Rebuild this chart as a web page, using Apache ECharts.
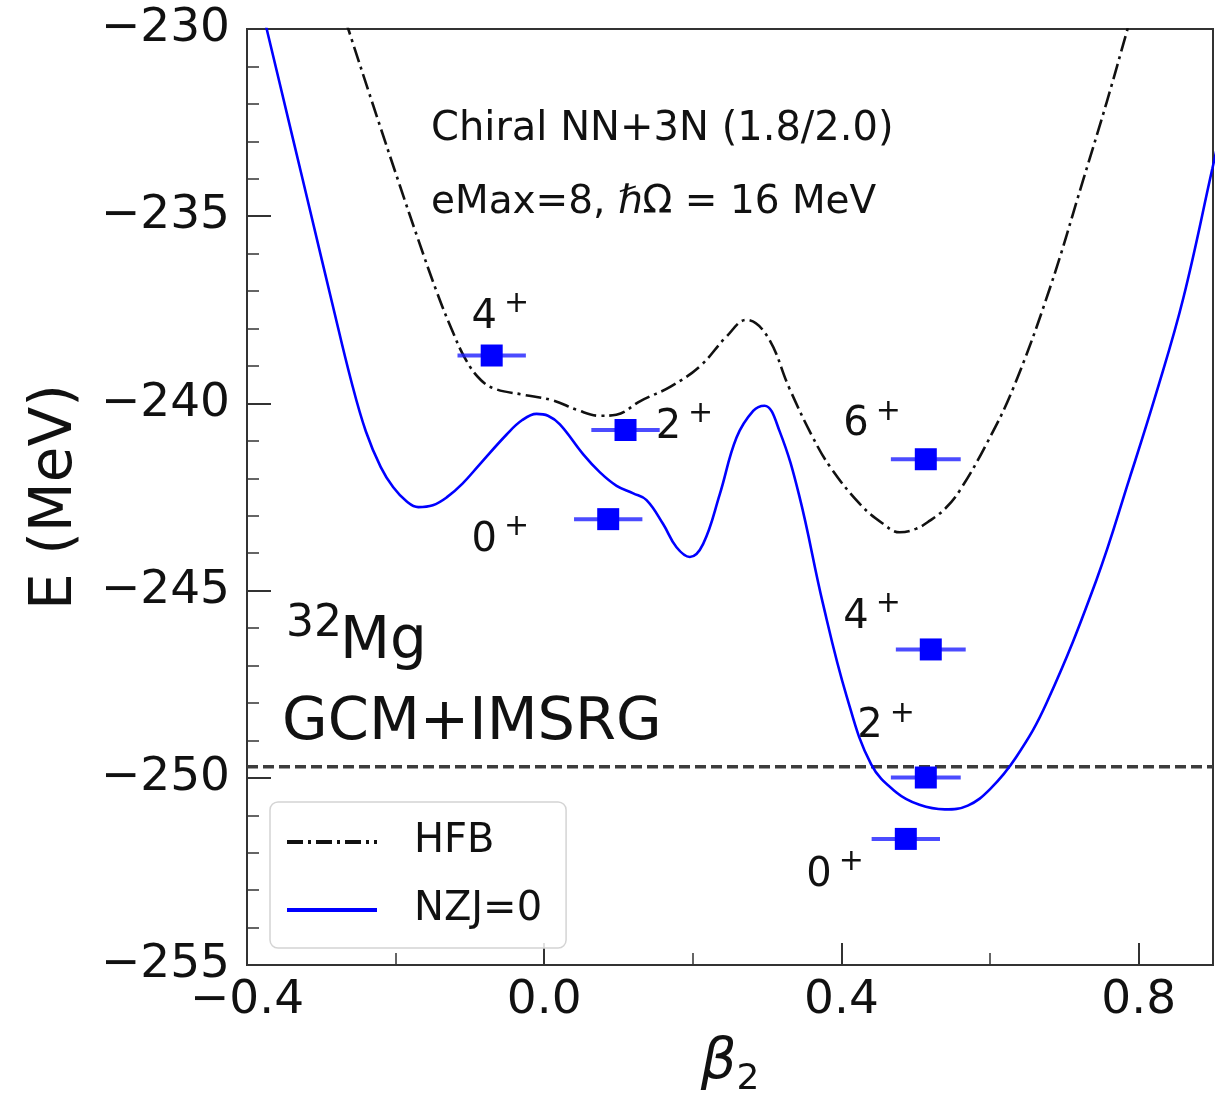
<!DOCTYPE html>
<html><head><meta charset="utf-8">
<script src="https://cdn.jsdelivr.net/npm/echarts@6/dist/echarts.min.js"></script>
<style>html,body{margin:0;padding:0;background:#fff}#c{width:1225px;height:1103px}</style>
</head><body><div id="c"></div>
<script>
// HFB energy surface (dash-dot)
const hfbBeta = [-0.28, -0.2637, -0.23, -0.194, -0.17, -0.145, -0.125, -0.105, -0.085, -0.065, -0.03, 0.012, 0.045, 0.075, 0.097, 0.13, 0.17, 0.21, 0.245, 0.272, 0.30, 0.33, 0.36, 0.385, 0.425, 0.455, 0.4785, 0.50, 0.519, 0.54, 0.559, 0.595, 0.631, 0.68, 0.725, 0.757, 0.785, 0.80];
const hfbE    = [-229.0, -230.0, -232.05, -234.2, -235.6, -237.0, -238.0, -238.85, -239.38, -239.62, -239.76, -239.92, -240.18, -240.33, -240.30, -239.93, -239.55, -239.0, -238.22, -237.77, -238.2, -239.6, -240.85, -241.7, -242.69, -243.2, -243.44, -243.35, -243.13, -242.8, -242.33, -241.09, -239.6, -236.95, -234.05, -231.95, -230.0, -228.95];
// NZJ=0 energy surface (solid blue)
const nzjBeta = [-0.382, -0.3735, -0.34, -0.3135, -0.285, -0.26, -0.24, -0.22, -0.2032, -0.185, -0.1695, -0.15, -0.1313, -0.11, -0.0865, -0.0506, -0.03, -0.0103, 0.005, 0.0211, 0.0525, 0.075, 0.0974, 0.1198, 0.1377, 0.16, 0.178, 0.196, 0.2139, 0.2363, 0.2588, 0.2812, 0.2965, 0.3167, 0.343, 0.375, 0.407, 0.44, 0.474, 0.505, 0.539, 0.57, 0.60, 0.635, 0.676, 0.743, 0.788, 0.824, 0.86, 0.899, 0.905];
const nzjE    = [-229.3, -230.0, -232.78, -234.98, -237.35, -239.38, -240.75, -241.7, -242.24, -242.62, -242.77, -242.72, -242.51, -242.14, -241.62, -240.83, -240.45, -240.28, -240.33, -240.56, -241.36, -241.84, -242.20, -242.40, -242.58, -243.22, -243.84, -244.10, -243.75, -242.42, -240.91, -240.20, -240.06, -240.74, -242.45, -245.34, -247.82, -249.64, -250.39, -250.72, -250.84, -250.74, -250.30, -249.45, -248.00, -244.72, -241.98, -239.70, -237.19, -233.74, -233.2];
// GCM states
const levelBeta = [-0.0707, 0.1094, 0.0861, 0.5135, 0.5202, 0.5135, 0.4866];
const levelE    = [-238.72, -240.71, -243.09, -241.49, -246.57, -249.99, -251.63];
const levelErr  = [0.046, 0.046, 0.046, 0.047, 0.047, 0.047, 0.046];
// state labels
const labelText = ['4', '2', '0', '6', '4', '2', '0'];
const labelBeta = [-0.0986, 0.1493, -0.0986, 0.4018, 0.4018, 0.4207, 0.352];
const labelE    = [-237.71, -240.64, -243.65, -240.57, -245.72, -248.64, -252.60];
// reference (experimental) ground-state line
const refE = -249.7;
const xRange = [-0.4, 0.9];
const yRange = [-255, -230];

const FONT = 'DejaVu Sans';
const minus = v => (v < 0 ? '\u2212' : '') + Math.abs(v);
const chart = echarts.init(document.getElementById('c'));

chart.setOption({
  animation: false,
  backgroundColor: '#fff',
  grid: { left: 247, right: 12, top: 29, bottom: 133, show: true, borderColor: '#333', borderWidth: 2, backgroundColor: 'transparent' },
  textStyle: { fontFamily: FONT },
  legend: {
    data: ['HFB', 'NZJ=0'],
    orient: 'vertical', left: 270, top: 802,
    padding: [20, 24, 18, 15],
    itemWidth: 90, itemHeight: 14, itemGap: 28,
    backgroundColor: 'rgba(255,255,255,0.85)',
    borderColor: '#d4d4d4', borderWidth: 1.5, borderRadius: 8,
    lineStyle: { width: 4 },
    itemStyle: { opacity: 0, borderWidth: 0 },
    formatter: n => '{a|' + n + '}',
    textStyle: { fontFamily: FONT, fontSize: 40, color: '#111', rich: { a: { fontSize: 40, fontFamily: FONT, color: '#111', padding: [0, 0, 0, 32], lineHeight: 45 } } }
  },
  xAxis: [{
    type: 'value', min: xRange[0], max: xRange[1], interval: 0.4,
    name: '{b|\u03B2}{s|2}', nameLocation: 'middle', nameGap: 62,
    nameTextStyle: { rich: {
      b: { fontSize: 56, fontStyle: 'italic', fontFamily: FONT, color: '#111', lineHeight: 60 },
      s: { fontSize: 36, fontFamily: FONT, color: '#111', lineHeight: 40, padding: [33, 0, 0, 0] }
    } },
    axisLine: { show: true, onZero: false, lineStyle: { color: '#333', width: 2 } },
    axisTick: { show: true, inside: true, length: 22, lineStyle: { color: '#333', width: 2 } },
    axisLabel: { fontSize: 47, color: '#111', fontFamily: FONT, margin: 12, showMaxLabel: false, formatter: v => (v < 0 ? '\u2212' : '') + Math.abs(v).toFixed(1) },
    splitLine: { show: false }
  }, {
    type: 'value', min: xRange[0], max: xRange[1], interval: 0.2, position: 'bottom',
    axisLine: { show: false },
    axisTick: { show: true, inside: true, length: 12, lineStyle: { color: '#333', width: 1.5 } },
    axisLabel: { show: false },
    splitLine: { show: false }
  }],
  yAxis: {
    type: 'value', min: yRange[0], max: yRange[1], interval: 5,
    name: 'E (MeV)', nameLocation: 'middle', nameGap: 162, nameRotate: 90,
    nameTextStyle: { fontSize: 58, fontFamily: FONT, color: '#111' },
    axisLine: { show: true, onZero: false, lineStyle: { color: '#333', width: 2 } },
    axisTick: { show: true, inside: true, length: 24, lineStyle: { color: '#333', width: 2 } },
    minorTick: { show: true, splitNumber: 5, length: 12, lineStyle: { color: '#333', width: 1.5 } },
    axisLabel: { fontSize: 47, color: '#111', fontFamily: FONT, margin: 17, formatter: minus },
    splitLine: { show: false }, minorSplitLine: { show: false }
  },
  graphic: [
    { type: 'text', left: 431, top: 110, style: { text: 'Chiral NN+3N (1.8/2.0)', font: '40px "DejaVu Sans"', fill: '#111' } },
    { type: 'text', left: 431, top: 183, style: { text: 'eMax=8, {i|\u210F}\u03A9 = 16 MeV', font: '39px "DejaVu Sans"', fill: '#111',
        rich: { i: { fontStyle: 'italic', fontSize: 39, fontFamily: FONT } } } },
    { type: 'text', left: 286, top: 603, style: { text: '32', font: '44px "DejaVu Sans"', fill: '#111' } },
    { type: 'text', left: 340, top: 614, style: { text: 'Mg', font: '58px "DejaVu Sans"', fill: '#111' } },
    { type: 'text', left: 282, top: 694, style: { text: 'GCM+IMSRG', font: '59px "DejaVu Sans"', fill: '#111' } }
  ],
  series: [
    { name: 'NZJ=0', type: 'line', data: nzjBeta.map((b, i) => [b, nzjE[i]]), smooth: 0.4, symbol: 'none', clip: true,
      lineStyle: { color: '#0000ff', width: 2.6 }, itemStyle: { color: '#0000ff' }, z: 3 },
    { name: 'HFB', type: 'line', data: hfbBeta.map((b, i) => [b, hfbE[i]]), smooth: 0.4, symbol: 'none', clip: true,
      lineStyle: { color: '#111', width: 2.6, type: [16, 5, 3, 5] }, itemStyle: { color: '#333' }, z: 3 },
    { name: 'ref', type: 'line', data: [[xRange[0], refE], [xRange[1], refE]], symbol: 'none',
      lineStyle: { color: '#3c3c3c', width: 3.5, type: [11, 5] }, z: 2, silent: true },
    { name: 'err', type: 'custom', data: levelBeta.map((b, i) => [b, levelE[i], levelErr[i]]), encode: { x: 0, y: 1 }, z: 4, silent: true,
      renderItem: (params, api) => {
        const x = api.value(0), y = api.value(1), e = api.value(2);
        const p1 = api.coord([x - e, y]), p2 = api.coord([x + e, y]);
        return { type: 'line', shape: { x1: p1[0], y1: p1[1], x2: p2[0], y2: p2[1] }, style: { stroke: 'rgba(30,30,255,0.8)', lineWidth: 4 } };
      } },
    { name: 'levels', type: 'scatter', data: levelBeta.map((b, i) => [b, levelE[i]]), symbol: 'rect', symbolSize: 22,
      itemStyle: { color: '#0000ff', opacity: 1 }, z: 5, silent: true },
    { name: 'labels', type: 'scatter', data: labelBeta.map((b, i) => [b, labelE[i]]), symbol: 'circle', symbolSize: 1,
      itemStyle: { color: 'rgba(255,255,255,0)' }, z: 6, silent: true,
      label: { show: true, position: 'right', distance: 0, align: 'left', verticalAlign: 'middle', color: '#000', opacity: 1, textBorderWidth: 0,
        formatter: p => '{d|' + labelText[p.dataIndex] + '}{s|+}',
        rich: {
          d: { fontSize: 40, fontFamily: FONT, color: '#111', lineHeight: 48 },
          s: { fontSize: 30, fontFamily: FONT, color: '#111', lineHeight: 28, padding: [0, 0, 26, 7] }
        } } }
  ]
});
</script></body></html>
